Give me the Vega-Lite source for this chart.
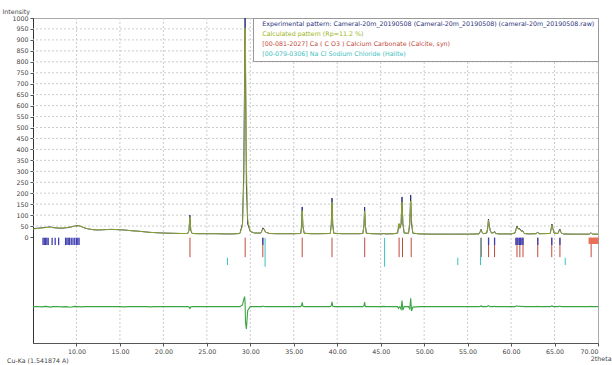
{
  "$schema": "https://vega.github.io/schema/vega-lite/v6.json",
  "width": 565,
  "height": 325,
  "autosize": "none",
  "padding": {"left": 33, "top": 18, "right": 14, "bottom": 22},
  "background": "white",
  "config": {
    "font": "DejaVu Sans",
    "view": {"stroke": "#aaaaaa", "strokeWidth": 1},
    "axis": {"labelFont": "DejaVu Sans", "labelFontSize": 6.3, "labelColor": "#444", "titleFont": "DejaVu Sans", "titleFontSize": 6.3, "titleFontWeight": "normal", "titleColor": "#444", "tickSize": 3, "tickColor": "#555", "grid": false, "labelOverlap": false, "labelPadding": 2},
    "axisX": {"domainColor": "#555"},
    "axisY": {"domainColor": "#333"}
  },
  "title": {"text": "Cu-Ka (1.541874 A)", "orient": "bottom", "anchor": "start", "frame": "group", "dx": -26, "offset": -3, "fontSize": 6.3, "font": "DejaVu Sans", "fontWeight": "normal", "color": "#444"},
  "datasets": {
    "pattern": [
      {"t": 5.0, "obs": 38, "calc": 36, "diff": -318},
      {"t": 5.5, "obs": 40, "calc": 39, "diff": -317},
      {"t": 6.0, "obs": 42, "calc": 41, "diff": -319},
      {"t": 6.5, "obs": 44, "calc": 43, "diff": -317},
      {"t": 7.0, "obs": 46, "calc": 44, "diff": -320},
      {"t": 7.3, "obs": 43, "calc": 43, "diff": -318},
      {"t": 7.8, "obs": 41, "calc": 41, "diff": -317},
      {"t": 8.3, "obs": 40, "calc": 41, "diff": -319},
      {"t": 8.8, "obs": 42, "calc": 43, "diff": -318},
      {"t": 9.3, "obs": 45, "calc": 46, "diff": -321},
      {"t": 9.8, "obs": 50, "calc": 49, "diff": -317},
      {"t": 10.2, "obs": 52, "calc": 51, "diff": -318},
      {"t": 10.6, "obs": 47, "calc": 47, "diff": -319},
      {"t": 11.0, "obs": 40, "calc": 41, "diff": -318},
      {"t": 11.5, "obs": 36, "calc": 36, "diff": -318},
      {"t": 12.0, "obs": 33, "calc": 33, "diff": -317},
      {"t": 12.5, "obs": 32, "calc": 33, "diff": -318},
      {"t": 13.0, "obs": 33, "calc": 33, "diff": -318},
      {"t": 13.5, "obs": 34, "calc": 34, "diff": -317},
      {"t": 14.0, "obs": 35, "calc": 34, "diff": -318},
      {"t": 14.5, "obs": 34, "calc": 34, "diff": -318},
      {"t": 15.0, "obs": 33, "calc": 33, "diff": -318},
      {"t": 15.5, "obs": 32, "calc": 32, "diff": -319},
      {"t": 16.0, "obs": 30, "calc": 30, "diff": -318},
      {"t": 16.5, "obs": 28, "calc": 28, "diff": -318},
      {"t": 17.0, "obs": 27, "calc": 27, "diff": -317},
      {"t": 17.5, "obs": 25, "calc": 25, "diff": -318},
      {"t": 18.0, "obs": 23, "calc": 23, "diff": -318},
      {"t": 18.5, "obs": 21, "calc": 21, "diff": -319},
      {"t": 19.0, "obs": 20, "calc": 20, "diff": -318},
      {"t": 19.5, "obs": 19, "calc": 19, "diff": -318},
      {"t": 20.0, "obs": 18, "calc": 18, "diff": -317},
      {"t": 21.0, "obs": 17, "calc": 17, "diff": -318},
      {"t": 22.0, "obs": 16, "calc": 16, "diff": -318},
      {"t": 22.8, "obs": 16, "calc": 16, "diff": -318},
      {"t": 22.95, "obs": 30, "calc": 32, "diff": -320},
      {"t": 23.05, "obs": 100, "calc": 92, "diff": -326},
      {"t": 23.15, "obs": 30, "calc": 34, "diff": -320},
      {"t": 23.3, "obs": 16, "calc": 16, "diff": -318},
      {"t": 24.0, "obs": 15, "calc": 15, "diff": -318},
      {"t": 25.0, "obs": 15, "calc": 15, "diff": -318},
      {"t": 26.0, "obs": 15, "calc": 15, "diff": -318},
      {"t": 27.0, "obs": 14, "calc": 14, "diff": -318},
      {"t": 28.0, "obs": 14, "calc": 14, "diff": -318},
      {"t": 28.8, "obs": 16, "calc": 16, "diff": -318},
      {"t": 29.1, "obs": 60, "calc": 50, "diff": -310},
      {"t": 29.25, "obs": 300, "calc": 250, "diff": -285},
      {"t": 29.35, "obs": 760, "calc": 700, "diff": -272},
      {"t": 29.4, "obs": 1000, "calc": 955, "diff": -300},
      {"t": 29.45, "obs": 760, "calc": 850, "diff": -390},
      {"t": 29.55, "obs": 240, "calc": 340, "diff": -420},
      {"t": 29.7, "obs": 60, "calc": 80, "diff": -335},
      {"t": 30.0, "obs": 25, "calc": 26, "diff": -318},
      {"t": 30.5, "obs": 18, "calc": 18, "diff": -318},
      {"t": 31.2, "obs": 18, "calc": 18, "diff": -318},
      {"t": 31.35, "obs": 30, "calc": 28, "diff": -318},
      {"t": 31.45, "obs": 42, "calc": 38, "diff": -315},
      {"t": 31.6, "obs": 35, "calc": 33, "diff": -317},
      {"t": 31.75, "obs": 22, "calc": 22, "diff": -318},
      {"t": 32.2, "obs": 16, "calc": 16, "diff": -318},
      {"t": 33.0, "obs": 15, "calc": 15, "diff": -318},
      {"t": 34.0, "obs": 15, "calc": 15, "diff": -318},
      {"t": 35.0, "obs": 15, "calc": 15, "diff": -318},
      {"t": 35.8, "obs": 16, "calc": 16, "diff": -318},
      {"t": 35.9, "obs": 50, "calc": 45, "diff": -312},
      {"t": 35.97, "obs": 137, "calc": 120, "diff": -298},
      {"t": 36.05, "obs": 50, "calc": 48, "diff": -316},
      {"t": 36.2, "obs": 17, "calc": 17, "diff": -318},
      {"t": 37.0, "obs": 15, "calc": 15, "diff": -318},
      {"t": 38.0, "obs": 15, "calc": 15, "diff": -318},
      {"t": 39.2, "obs": 16, "calc": 16, "diff": -318},
      {"t": 39.32, "obs": 60, "calc": 55, "diff": -313},
      {"t": 39.4, "obs": 178, "calc": 160, "diff": -296},
      {"t": 39.48, "obs": 60, "calc": 58, "diff": -316},
      {"t": 39.6, "obs": 17, "calc": 17, "diff": -318},
      {"t": 40.5, "obs": 15, "calc": 15, "diff": -318},
      {"t": 41.5, "obs": 15, "calc": 15, "diff": -318},
      {"t": 42.5, "obs": 15, "calc": 15, "diff": -318},
      {"t": 42.95, "obs": 16, "calc": 16, "diff": -318},
      {"t": 43.08, "obs": 55, "calc": 52, "diff": -314},
      {"t": 43.15, "obs": 137, "calc": 118, "diff": -297},
      {"t": 43.23, "obs": 55, "calc": 55, "diff": -318},
      {"t": 43.35, "obs": 17, "calc": 17, "diff": -318},
      {"t": 44.0, "obs": 15, "calc": 15, "diff": -318},
      {"t": 45.0, "obs": 14, "calc": 14, "diff": -318},
      {"t": 45.4, "obs": 16, "calc": 15, "diff": -317},
      {"t": 45.5, "obs": 14, "calc": 14, "diff": -318},
      {"t": 46.5, "obs": 15, "calc": 15, "diff": -318},
      {"t": 46.95, "obs": 18, "calc": 18, "diff": -318},
      {"t": 47.05, "obs": 45, "calc": 50, "diff": -326},
      {"t": 47.12, "obs": 60, "calc": 62, "diff": -322},
      {"t": 47.2, "obs": 40, "calc": 40, "diff": -318},
      {"t": 47.35, "obs": 60, "calc": 70, "diff": -330},
      {"t": 47.45, "obs": 183, "calc": 160, "diff": -290},
      {"t": 47.55, "obs": 60, "calc": 72, "diff": -334},
      {"t": 47.7, "obs": 18, "calc": 18, "diff": -318},
      {"t": 48.2, "obs": 17, "calc": 17, "diff": -318},
      {"t": 48.35, "obs": 60, "calc": 68, "diff": -328},
      {"t": 48.45, "obs": 192, "calc": 165, "diff": -280},
      {"t": 48.55, "obs": 60, "calc": 75, "diff": -338},
      {"t": 48.7, "obs": 17, "calc": 18, "diff": -320},
      {"t": 49.5, "obs": 14, "calc": 14, "diff": -318},
      {"t": 51.0, "obs": 13, "calc": 13, "diff": -318},
      {"t": 53.0, "obs": 13, "calc": 13, "diff": -318},
      {"t": 54.0, "obs": 13, "calc": 13, "diff": -318},
      {"t": 55.0, "obs": 13, "calc": 13, "diff": -318},
      {"t": 56.3, "obs": 14, "calc": 14, "diff": -318},
      {"t": 56.45, "obs": 25, "calc": 24, "diff": -317},
      {"t": 56.55, "obs": 35, "calc": 32, "diff": -314},
      {"t": 56.65, "obs": 22, "calc": 22, "diff": -318},
      {"t": 56.8, "obs": 15, "calc": 15, "diff": -318},
      {"t": 57.2, "obs": 18, "calc": 18, "diff": -318},
      {"t": 57.32, "obs": 45, "calc": 42, "diff": -315},
      {"t": 57.4, "obs": 82, "calc": 76, "diff": -313},
      {"t": 57.5, "obs": 50, "calc": 48, "diff": -316},
      {"t": 57.6, "obs": 30, "calc": 30, "diff": -318},
      {"t": 57.75, "obs": 18, "calc": 18, "diff": -318},
      {"t": 58.0, "obs": 20, "calc": 20, "diff": -318},
      {"t": 58.1, "obs": 26, "calc": 24, "diff": -316},
      {"t": 58.2, "obs": 16, "calc": 16, "diff": -318},
      {"t": 58.6, "obs": 14, "calc": 14, "diff": -318},
      {"t": 60.0, "obs": 14, "calc": 14, "diff": -318},
      {"t": 60.45, "obs": 18, "calc": 18, "diff": -318},
      {"t": 60.6, "obs": 40, "calc": 37, "diff": -315},
      {"t": 60.68, "obs": 50, "calc": 46, "diff": -314},
      {"t": 60.8, "obs": 38, "calc": 37, "diff": -317},
      {"t": 61.0, "obs": 38, "calc": 35, "diff": -315},
      {"t": 61.15, "obs": 27, "calc": 27, "diff": -318},
      {"t": 61.35, "obs": 28, "calc": 26, "diff": -316},
      {"t": 61.5, "obs": 16, "calc": 16, "diff": -318},
      {"t": 62.0, "obs": 14, "calc": 14, "diff": -318},
      {"t": 62.9, "obs": 15, "calc": 15, "diff": -318},
      {"t": 63.05, "obs": 23, "calc": 22, "diff": -317},
      {"t": 63.2, "obs": 15, "calc": 15, "diff": -318},
      {"t": 64.5, "obs": 16, "calc": 16, "diff": -318},
      {"t": 64.62, "obs": 40, "calc": 38, "diff": -316},
      {"t": 64.7, "obs": 59, "calc": 55, "diff": -314},
      {"t": 64.8, "obs": 40, "calc": 39, "diff": -317},
      {"t": 64.95, "obs": 18, "calc": 18, "diff": -318},
      {"t": 65.4, "obs": 16, "calc": 16, "diff": -318},
      {"t": 65.55, "obs": 32, "calc": 30, "diff": -316},
      {"t": 65.62, "obs": 36, "calc": 33, "diff": -315},
      {"t": 65.75, "obs": 20, "calc": 20, "diff": -318},
      {"t": 66.0, "obs": 14, "calc": 14, "diff": -318},
      {"t": 67.0, "obs": 13, "calc": 13, "diff": -318},
      {"t": 68.0, "obs": 13, "calc": 13, "diff": -318},
      {"t": 69.0, "obs": 13, "calc": 13, "diff": -318},
      {"t": 69.15, "obs": 18, "calc": 17, "diff": -317},
      {"t": 69.25, "obs": 17, "calc": 16, "diff": -318},
      {"t": 69.4, "obs": 13, "calc": 13, "diff": -318},
      {"t": 70.0, "obs": 13, "calc": 13, "diff": -318}
    ],
    "calcite": [
      {"t": 23.06}, {"t": 29.41}, {"t": 31.44}, {"t": 35.97}, {"t": 39.4}, {"t": 43.16},
      {"t": 47.12}, {"t": 47.51}, {"t": 48.51}, {"t": 56.57}, {"t": 57.41}, {"t": 58.1},
      {"t": 60.68}, {"t": 61.01}, {"t": 61.37}, {"t": 63.07}, {"t": 64.68}, {"t": 65.62}, {"t": 69.21}
    ],
    "halite": [
      {"t": 27.37, "hi": -95, "lo": -128},
      {"t": 31.7, "hi": -4, "lo": -136},
      {"t": 45.45, "hi": -4, "lo": -136},
      {"t": 53.87, "hi": -95, "lo": -128},
      {"t": 56.48, "hi": -4, "lo": -128},
      {"t": 66.23, "hi": -95, "lo": -128}
    ],
    "peaklist": [
      {"t": 6.15}, {"t": 6.3}, {"t": 6.45}, {"t": 6.6}, {"t": 6.75},
      {"t": 7.2}, {"t": 7.55}, {"t": 7.95},
      {"t": 8.75}, {"t": 8.9}, {"t": 9.05}, {"t": 9.2}, {"t": 9.4}, {"t": 9.6}, {"t": 9.8}, {"t": 10.0}, {"t": 10.15}, {"t": 10.3},
      {"t": 31.44}, {"t": 57.41}, {"t": 58.1}, {"t": 60.55}, {"t": 60.68}, {"t": 60.8}, {"t": 60.95}, {"t": 61.1}, {"t": 61.25}, {"t": 61.37},
      {"t": 63.07}, {"t": 64.68}, {"t": 65.62}
    ],
    "block": [
      {"t": 69.0}, {"t": 69.1}, {"t": 69.2}, {"t": 69.3}, {"t": 69.4}, {"t": 69.5}, {"t": 69.6}, {"t": 69.7}, {"t": 69.8}, {"t": 69.9}, {"t": 69.97}
    ],
    "xgrid": [
      {"t": 10}, {"t": 15}, {"t": 20}, {"t": 25}, {"t": 30}, {"t": 35}, {"t": 40}, {"t": 45}, {"t": 50}, {"t": 55}, {"t": 60}, {"t": 65}
    ],
    "ygrid": [
      {"v": 50}, {"v": 100}, {"v": 150}, {"v": 200}, {"v": 250}, {"v": 300}, {"v": 350}, {"v": 400}, {"v": 450}, {"v": 500},
      {"v": 550}, {"v": 600}, {"v": 650}, {"v": 700}, {"v": 750}, {"v": 800}, {"v": 850}, {"v": 900}, {"v": 950}
    ]
  },
  "layer": [
    {
      "data": {"name": "xgrid"},
      "mark": {"type": "rule", "color": "#cccccc", "strokeDash": [2, 2], "strokeWidth": 1},
      "encoding": {
        "x": {"field": "t", "type": "quantitative", "scale": {"domain": [5, 70], "nice": false, "zero": false},
          "axis": {"values": [10, 15, 20, 25, 30, 35, 40, 45, 50, 55, 60, 65, 70], "format": ".2f", "title": "2theta", "titleX": 578, "titleY": 17, "titleAlign": "right", "titleBaseline": "alphabetic", "grid": false}}
      }
    },
    {
      "data": {"name": "ygrid"},
      "mark": {"type": "rule", "color": "#cccccc", "strokeDash": [2, 2], "strokeWidth": 1},
      "encoding": {
        "y": {"field": "v", "type": "quantitative", "scale": {"domain": [-484, 1000], "nice": false, "zero": false},
          "axis": {"values": [0, 50, 100, 150, 200, 250, 300, 350, 400, 450, 500, 550, 600, 650, 700, 750, 800, 850, 900, 950, 1000], "format": "d", "title": "Intensity", "titleAngle": 0, "titleAlign": "left", "titleBaseline": "alphabetic", "titleX": -31, "titleY": -5, "grid": false, "labelOverlap": false}}
      }
    },
    {
      "data": {"name": "pattern"},
      "mark": {"type": "line", "color": "#3aa543", "strokeWidth": 1.1},
      "encoding": {
        "x": {"field": "t", "type": "quantitative",
          "axis": {"values": [10, 15, 20, 25, 30, 35, 40, 45, 50, 55, 60, 65, 70], "format": ".2f", "title": "2theta", "titleX": 578, "titleY": 17, "titleAlign": "right", "titleBaseline": "alphabetic", "grid": false}},
        "y": {"field": "diff", "type": "quantitative",
          "axis": {"values": [0, 50, 100, 150, 200, 250, 300, 350, 400, 450, 500, 550, 600, 650, 700, 750, 800, 850, 900, 950, 1000], "format": "d", "title": "Intensity", "titleAngle": 0, "titleAlign": "left", "titleBaseline": "alphabetic", "titleX": -31, "titleY": -5, "grid": false, "labelOverlap": false}}
      }
    },
    {
      "data": {"name": "calcite"},
      "mark": {"type": "rule", "strokeWidth": 1},
      "encoding": {
        "x": {"field": "t", "type": "quantitative",
          "axis": {"values": [10, 15, 20, 25, 30, 35, 40, 45, 50, 55, 60, 65, 70], "format": ".2f", "title": "2theta", "titleX": 578, "titleY": 17, "titleAlign": "right", "titleBaseline": "alphabetic", "grid": false}},
        "y": {"datum": -3, "type": "quantitative",
          "axis": {"values": [0, 50, 100, 150, 200, 250, 300, 350, 400, 450, 500, 550, 600, 650, 700, 750, 800, 850, 900, 950, 1000], "format": "d", "title": "Intensity", "titleAngle": 0, "titleAlign": "left", "titleBaseline": "alphabetic", "titleX": -31, "titleY": -5, "grid": false, "labelOverlap": false}},
        "y2": {"datum": -92},
        "color": {"datum": "[00-081-2027] Ca ( C O3 ) Calcium Carbonate (Calcite, syn)"}
      }
    },
    {
      "data": {"name": "halite"},
      "mark": {"type": "rule", "strokeWidth": 1},
      "encoding": {
        "x": {"field": "t", "type": "quantitative",
          "axis": {"values": [10, 15, 20, 25, 30, 35, 40, 45, 50, 55, 60, 65, 70], "format": ".2f", "title": "2theta", "titleX": 578, "titleY": 17, "titleAlign": "right", "titleBaseline": "alphabetic", "grid": false}},
        "y": {"field": "hi", "type": "quantitative",
          "axis": {"values": [0, 50, 100, 150, 200, 250, 300, 350, 400, 450, 500, 550, 600, 650, 700, 750, 800, 850, 900, 950, 1000], "format": "d", "title": "Intensity", "titleAngle": 0, "titleAlign": "left", "titleBaseline": "alphabetic", "titleX": -31, "titleY": -5, "grid": false, "labelOverlap": false}},
        "y2": {"field": "lo"},
        "color": {"datum": "[00-079-0306] Na Cl Sodium Chloride (Halite)"}
      }
    },
    {
      "data": {"name": "peaklist"},
      "mark": {"type": "rule", "strokeWidth": 1.3, "color": "#4040b0"},
      "encoding": {
        "x": {"field": "t", "type": "quantitative",
          "axis": {"values": [10, 15, 20, 25, 30, 35, 40, 45, 50, 55, 60, 65, 70], "format": ".2f", "title": "2theta", "titleX": 578, "titleY": 17, "titleAlign": "right", "titleBaseline": "alphabetic", "grid": false}},
        "y": {"datum": -3, "type": "quantitative",
          "axis": {"values": [0, 50, 100, 150, 200, 250, 300, 350, 400, 450, 500, 550, 600, 650, 700, 750, 800, 850, 900, 950, 1000], "format": "d", "title": "Intensity", "titleAngle": 0, "titleAlign": "left", "titleBaseline": "alphabetic", "titleX": -31, "titleY": -5, "grid": false, "labelOverlap": false}},
        "y2": {"datum": -37}
      }
    },
    {
      "data": {"name": "block"},
      "mark": {"type": "rule", "strokeWidth": 1.5, "color": "#e8705a"},
      "encoding": {
        "x": {"field": "t", "type": "quantitative",
          "axis": {"values": [10, 15, 20, 25, 30, 35, 40, 45, 50, 55, 60, 65, 70], "format": ".2f", "title": "2theta", "titleX": 578, "titleY": 17, "titleAlign": "right", "titleBaseline": "alphabetic", "grid": false}},
        "y": {"datum": -3, "type": "quantitative",
          "axis": {"values": [0, 50, 100, 150, 200, 250, 300, 350, 400, 450, 500, 550, 600, 650, 700, 750, 800, 850, 900, 950, 1000], "format": "d", "title": "Intensity", "titleAngle": 0, "titleAlign": "left", "titleBaseline": "alphabetic", "titleX": -31, "titleY": -5, "grid": false, "labelOverlap": false}},
        "y2": {"datum": -32}
      }
    },
    {
      "data": {"name": "pattern"},
      "mark": {"type": "line", "strokeWidth": 1},
      "encoding": {
        "x": {"field": "t", "type": "quantitative",
          "axis": {"values": [10, 15, 20, 25, 30, 35, 40, 45, 50, 55, 60, 65, 70], "format": ".2f", "title": "2theta", "titleX": 578, "titleY": 17, "titleAlign": "right", "titleBaseline": "alphabetic", "grid": false}},
        "y": {"field": "obs", "type": "quantitative",
          "axis": {"values": [0, 50, 100, 150, 200, 250, 300, 350, 400, 450, 500, 550, 600, 650, 700, 750, 800, 850, 900, 950, 1000], "format": "d", "title": "Intensity", "titleAngle": 0, "titleAlign": "left", "titleBaseline": "alphabetic", "titleX": -31, "titleY": -5, "grid": false, "labelOverlap": false}},
        "color": {"datum": "Experimental pattern: Cameral-20m_20190508 (Cameral-20m_20190508) (cameral-20m_20190508.raw)"}
      }
    },
    {
      "data": {"name": "pattern"},
      "mark": {"type": "line", "strokeWidth": 1, "opacity": 0.85},
      "encoding": {
        "x": {"field": "t", "type": "quantitative",
          "axis": {"values": [10, 15, 20, 25, 30, 35, 40, 45, 50, 55, 60, 65, 70], "format": ".2f", "title": "2theta", "titleX": 578, "titleY": 17, "titleAlign": "right", "titleBaseline": "alphabetic", "grid": false}},
        "y": {"field": "calc", "type": "quantitative",
          "axis": {"values": [0, 50, 100, 150, 200, 250, 300, 350, 400, 450, 500, 550, 600, 650, 700, 750, 800, 850, 900, 950, 1000], "format": "d", "title": "Intensity", "titleAngle": 0, "titleAlign": "left", "titleBaseline": "alphabetic", "titleX": -31, "titleY": -5, "grid": false, "labelOverlap": false}},
        "color": {"datum": "Calculated pattern (Rp=11.2 %)",
          "scale": {"domain": [
            "Experimental pattern: Cameral-20m_20190508 (Cameral-20m_20190508) (cameral-20m_20190508.raw)",
            "Calculated pattern (Rp=11.2 %)",
            "[00-081-2027] Ca ( C O3 ) Calcium Carbonate (Calcite, syn)",
            "[00-079-0306] Na Cl Sodium Chloride (Halite)"],
            "range": ["#2b2f7a", "#9ab520", "#c04a3a", "#3cc0c0"]},
          "legend": {"title": null, "orient": "top-right", "offset": 0, "padding": 3, "strokeColor": "#999", "fillColor": "white", "labelFontSize": 6.3, "labelFont": "DejaVu Sans", "labelLimit": 500, "rowPadding": 3, "symbolSize": 0, "symbolStrokeWidth": 0, "symbolOpacity": 0, "labelOffset": 0, "symbolType": "stroke",
            "labelColor": {"expr": "scale('color', datum.value)"}}}
      }
    },
    {
      "mark": {"type": "rule", "color": "#aaaaaa", "strokeWidth": 2},
      "encoding": {"y": {"datum": 1000, "type": "quantitative",
          "axis": {"values": [0, 50, 100, 150, 200, 250, 300, 350, 400, 450, 500, 550, 600, 650, 700, 750, 800, 850, 900, 950, 1000], "format": "d", "title": "Intensity", "titleAngle": 0, "titleAlign": "left", "titleBaseline": "alphabetic", "titleX": -31, "titleY": -5, "grid": false, "labelOverlap": false}}}
    }
  ]
}
